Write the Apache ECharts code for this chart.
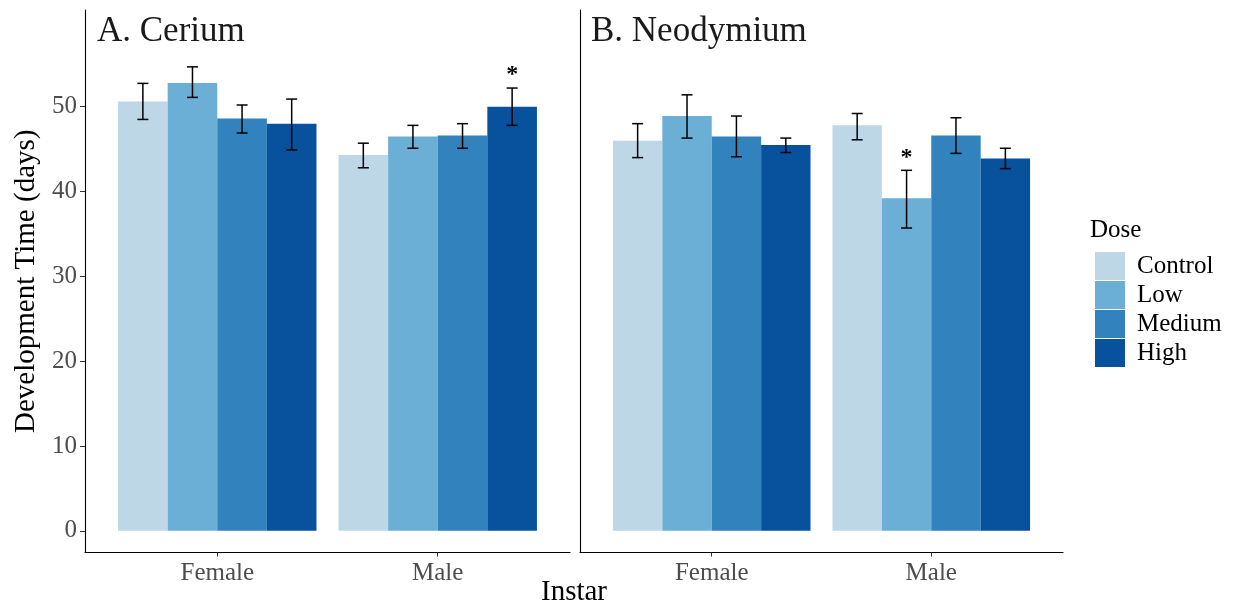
<!DOCTYPE html>
<html>
<head>
<meta charset="utf-8">
<script src="https://cdn.jsdelivr.net/npm/echarts@6/dist/echarts.min.js"></script>
<style>html,body{margin:0;padding:0;background:#fff}#c{width:1234px;height:605px}</style>
</head>
<body>
<div id="c"></div>
<script>
const doses = ['Control', 'Low', 'Medium', 'High'];
const instars = ['Female', 'Male'];
const doseColors = ['#BDD7E7', '#6BAED6', '#3182BD', '#08519C'];
const yTicks = [0, 10, 20, 30, 40, 50];

// Cerium: per dose (Control, Low, Medium, High)
const ceriumFemale   = [50.6, 52.8, 48.6, 48.0];
const ceriumFemaleLo = [48.5, 51.1, 46.9, 44.9];
const ceriumFemaleHi = [52.75, 54.7, 50.2, 50.9];
const ceriumMale     = [44.3, 46.5, 46.6, 50.0];
const ceriumMaleLo   = [42.8, 45.1, 45.1, 47.8];
const ceriumMaleHi   = [45.7, 47.8, 48.0, 52.2];
const ceriumMaleSig  = [0, 0, 0, 1];
const ceriumFemaleSig = [0, 0, 0, 0];

// Neodymium
const neoFemale   = [46.0, 48.9, 46.5, 45.5];
const neoFemaleLo = [44.0, 46.3, 44.1, 44.6];
const neoFemaleHi = [48.0, 51.4, 48.9, 46.3];
const neoMale     = [47.8, 39.2, 46.6, 43.9];
const neoMaleLo   = [46.1, 35.7, 44.5, 42.7];
const neoMaleHi   = [49.2, 42.5, 48.7, 45.1];
const neoMaleSig  = [0, 1, 0, 0];
const neoFemaleSig = [0, 0, 0, 0];

const FONT = "'Liberation Serif', 'Times New Roman', serif";
const BAR_UNIT = 0.225; // bar width in category units (0.9 / 4)

const panels = [
  {title: 'A. Cerium', female: ceriumFemale, male: ceriumMale,
   fLo: ceriumFemaleLo, fHi: ceriumFemaleHi, mLo: ceriumMaleLo, mHi: ceriumMaleHi,
   fSig: ceriumFemaleSig, mSig: ceriumMaleSig},
  {title: 'B. Neodymium', female: neoFemale, male: neoMale,
   fLo: neoFemaleLo, fHi: neoFemaleHi, mLo: neoMaleLo, mHi: neoMaleHi,
   fSig: neoFemaleSig, mSig: neoMaleSig}
];

const grids = [
  {left: 85, top: 10, width: 485, height: 542.5},
  {left: 580, top: 10, width: 483, height: 542.5}
];

const xAxes = [], yAxes = [], series = [];
panels.forEach((p, gi) => {
  xAxes.push({
    type: 'value', gridIndex: gi, min: 0.4, max: 2.6,
    splitLine: {show: false},
    axisLine: {show: true, onZero: false, lineStyle: {color: '#000', width: 1.1}},
    axisTick: {show: true, customValues: [1, 2], length: 4, lineStyle: {color: '#333'}},
    axisLabel: {show: true, customValues: [1, 2], margin: 8,
      formatter: v => instars[Math.round(v) - 1] || '',
      fontFamily: FONT, fontSize: 25, color: '#4d4d4d'}
  });
  yAxes.push({
    type: 'value', gridIndex: gi, min: -2.55, max: 61.4,
    splitLine: {show: false},
    axisLine: {show: true, onZero: false, lineStyle: {color: '#000', width: 1.1}},
    axisTick: {show: gi === 0, customValues: yTicks, length: 5, lineStyle: {color: '#333'}},
    axisLabel: {show: gi === 0, customValues: yTicks, margin: 8,
      fontFamily: FONT, fontSize: 25, color: '#4d4d4d'},
    name: gi === 0 ? 'Development Time (days)' : '',
    nameLocation: 'middle', nameGap: 44,
    nameTextStyle: {fontFamily: FONT, fontSize: 29, color: '#000'}
  });
  doses.forEach((d, di) => {
    series.push({
      type: 'bar', name: d, xAxisIndex: gi, yAxisIndex: gi,
      barWidth: (BAR_UNIT * 100) + '%', barGap: '0%',
      itemStyle: {color: doseColors[di]},
      data: [[1, p.female[di]], [2, p.male[di]]]
    });
  });
  const err = [];
  doses.forEach((d, di) => {
    const off = (di - 1.5) * BAR_UNIT;
    err.push([1 + off, p.fLo[di], p.fHi[di], p.fSig[di]]);
    err.push([2 + off, p.mLo[di], p.mHi[di], p.mSig[di]]);
  });
  series.push({
    type: 'custom', xAxisIndex: gi, yAxisIndex: gi, z: 10,
    data: err,
    renderItem: (params, api) => {
      const x = api.value(0), lo = api.value(1), hi = api.value(2), sig = api.value(3);
      const a = api.coord([x, lo]), b = api.coord([x, hi]);
      const cap = 5.5;
      const st = {stroke: '#000', lineWidth: 1.5};
      const ch = [
        {type: 'line', shape: {x1: a[0], y1: a[1], x2: b[0], y2: b[1]}, style: st},
        {type: 'line', shape: {x1: a[0] - cap, y1: a[1], x2: a[0] + cap, y2: a[1]}, style: st},
        {type: 'line', shape: {x1: b[0] - cap, y1: b[1], x2: b[0] + cap, y2: b[1]}, style: st}
      ];
      if (sig) {
        ch.push({type: 'text', x: b[0], y: b[1] - 13,
          style: {text: '*', fontFamily: FONT, fontSize: 24, fontWeight: 'bold',
            fill: '#000', align: 'center', verticalAlign: 'middle'}});
      }
      return {type: 'group', children: ch};
    }
  });
});

const chart = echarts.init(document.getElementById('c'), null, {renderer: 'canvas'});
chart.setOption({
  animation: false,
  backgroundColor: '#fff',
  grid: grids,
  xAxis: xAxes,
  yAxis: yAxes,
  legend: {
    data: doses, orient: 'vertical', left: 1095, top: 252, padding: 0,
    icon: 'rect', itemWidth: 30, itemHeight: 28, itemGap: 1,
    textStyle: {fontFamily: FONT, fontSize: 25, color: '#000', lineHeight: 28, padding: [0, 0, 0, 7]},
    selectedMode: false
  },
  graphic: [
    {type: 'text', left: 97, top: 14, style: {text: panels[0].title, fontFamily: FONT, fontSize: 35, fill: '#1a1a1a'}},
    {type: 'text', left: 591, top: 14, style: {text: panels[1].title, fontFamily: FONT, fontSize: 35, fill: '#1a1a1a'}},
    {type: 'text', x: 574, y: 592, style: {text: 'Instar', fontFamily: FONT, fontSize: 29, fill: '#000', align: 'center', verticalAlign: 'middle'}},
    {type: 'text', x: 1090, y: 230, style: {text: 'Dose', fontFamily: FONT, fontSize: 25, fill: '#000', align: 'left', verticalAlign: 'middle'}}
  ],
  series: series
});
</script>
</body>
</html>
